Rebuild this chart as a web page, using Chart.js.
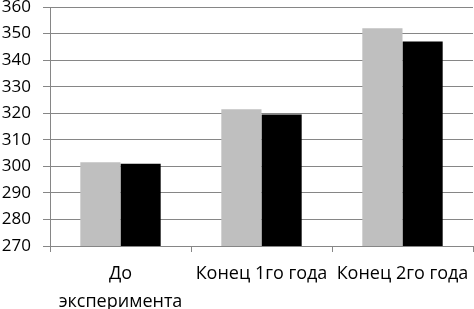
<!DOCTYPE html>
<html>
<head>
<meta charset="utf-8">
<script src="https://cdn.jsdelivr.net/npm/chart.js@4/dist/chart.umd.min.js"></script>
<style>
  html, body { margin: 0; padding: 0; background: #fff; }
  #wrap { width: 474px; height: 309px; }
</style>
</head>
<body>
<div id="wrap"><canvas id="chart"></canvas></div>
<script>
// Chart data
const categories = [['До', 'эксперимента'], 'Конец 1го года', 'Конец 2го года'];
const seriesA = [301.5, 321.5, 352];
const seriesB = [301, 319.5, 347];
const yTicks = { min: 270, max: 360, step: 10 };

const gridColor = '#868686';

const ctx = document.getElementById('chart').getContext('2d');
new Chart(ctx, {
  type: 'bar',
  data: {
    labels: categories,
    datasets: [
      { label: 'A', data: seriesA, backgroundColor: '#bfbfbf', borderWidth: 0 },
      { label: 'B', data: seriesB, backgroundColor: '#000000', borderWidth: 0 }
    ]
  },
  options: {
    responsive: true,
    maintainAspectRatio: false,
    animation: false,
    layout: { padding: { top: 7, right: 1, left: 0, bottom: 0 } },
    plugins: { legend: { display: false }, tooltip: { enabled: false } },
    datasets: { bar: { categoryPercentage: 0.57, barPercentage: 1.0 } },
    scales: {
      x: {
        grid: { drawOnChartArea: false, color: gridColor, tickLength: 6, offset: true },
        border: { color: gridColor, width: 1 },
        ticks: {
          color: '#000',
          font: { family: 'Open Sans', size: 18, lineHeight: 1.55 },
          padding: 8,
          maxRotation: 0,
          autoSkip: false
        },
        afterFit: (scale) => {
          scale.height = 63;
          // labels fit inside their categories, no extra side padding
          scale.paddingLeft = 0;
          scale.paddingRight = 0;
        }
      },
      y: {
        min: yTicks.min,
        max: yTicks.max,
        grid: { color: gridColor, tickLength: 7 },
        border: { color: gridColor, width: 1 },
        ticks: {
          stepSize: yTicks.step,
          color: '#000',
          font: { family: 'Open Sans', size: 17 },
          padding: 12
        },
        afterFit: (scale) => {
          scale.width = 50;
          scale.paddingTop = 0;
          scale.paddingBottom = 0;
        }
      }
    }
  }
});
</script>
</body>
</html>
